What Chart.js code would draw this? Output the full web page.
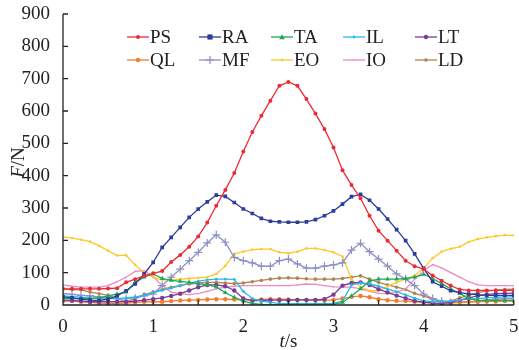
<!DOCTYPE html>
<html>
<head>
<meta charset="utf-8">
<script src="https://cdn.jsdelivr.net/npm/chart.js@4.4.1/dist/chart.umd.min.js"></script>
<style>
  html, body { margin: 0; padding: 0; background: #fff; }
  #wrap { width: 519px; height: 350px; }
</style>
</head>
<body>
<div id="wrap"><canvas id="c"></canvas></div>
<script>
const times = [0, 0.1, 0.2, 0.3, 0.4, 0.5, 0.6, 0.7, 0.8, 0.9,
  1, 1.1, 1.2, 1.3, 1.4, 1.5, 1.6, 1.7, 1.8, 1.9,
  2, 2.1, 2.2, 2.3, 2.4, 2.5, 2.6, 2.7, 2.8, 2.9,
  3, 3.1, 3.2, 3.3, 3.4, 3.5, 3.6, 3.7, 3.8, 3.9,
  4, 4.1, 4.2, 4.3, 4.4, 4.5, 4.6, 4.7, 4.8, 4.9, 5];

const PS = [50, 50, 50, 50, 50, 51, 52, 70, 80, 90,
  98, 105, 133, 155, 180, 212, 255, 307, 356, 408,
  475, 535, 585, 632, 678, 690, 678, 637, 592, 544,
  487, 417, 371, 330, 276, 230, 199, 168, 137, 120,
  111, 91, 75, 60, 48, 45, 45, 45, 45, 45, 45];
const RA = [25, 22, 18, 15, 14, 18, 28, 44, 65, 96,
  132, 178, 209, 240, 271, 297, 319, 340, 336, 317,
  297, 283, 268, 259, 257, 256, 256, 257, 264, 276,
  291, 312, 335, 342, 324, 297, 266, 233, 199, 158,
  113, 72, 58, 44, 38, 34, 32, 30, 30, 30, 30];
const TA = [20, 20, 20, 20, 22, 28, 34, 40, 70, 86,
  96, 82, 76, 73, 70, 66, 62, 56, 38, 24,
  12, 5, 2, 1, 1, 1, 1, 1, 1, 1,
  2, 8, 28, 50, 74, 80, 80, 80, 82, 86,
  95, 82, 66, 50, 36, 20, 15, 14, 14, 14, 14];
const IL = [28, 26, 24, 22, 21, 20, 20, 22, 25, 30,
  38, 45, 52, 60, 68, 74, 78, 80, 80, 79,
  42, 20, 12, 8, 5, 4, 4, 4, 4, 4,
  5, 12, 62, 68, 65, 58, 49, 41, 31, 21,
  13, 10, 10, 12, 15, 18, 20, 22, 24, 25, 25];
const LT = [15, 14, 12, 10, 10, 10, 10, 10, 12, 15,
  18, 22, 28, 35, 45, 55, 62, 62, 58, 45,
  20, 13, 14, 15, 15, 15, 16, 16, 16, 18,
  32, 60, 68, 70, 62, 49, 39, 29, 21, 13,
  9, 6, 5, 8, 15, 22, 28, 32, 35, 36, 37];
const QL = [12, 12, 10, 8, 6, 5, 5, 6, 8, 10,
  10, 10, 12, 14, 15, 16, 17, 18, 18, 17,
  16, 16, 17, 18, 18, 17, 16, 15, 14, 14,
  16, 20, 25, 28, 24, 18, 15, 13, 12, 10,
  8, 6, 5, 6, 8, 10, 10, 11, 11, 12, 12];
const MF = [35, 33, 30, 28, 25, 22, 20, 20, 22, 28,
  34, 60, 86, 111, 137, 163, 192, 217, 194, 147,
  137, 130, 120, 120, 137, 142, 127, 114, 114, 120,
  124, 130, 170, 191, 165, 142, 120, 96, 80, 60,
  34, 20, 12, 8, 8, 10, 12, 15, 18, 20, 20];
const EO = [211, 207, 202, 196, 183, 168, 153, 154, 124, 99,
  86, 78, 78, 80, 82, 84, 86, 96, 121, 158,
  165, 171, 173, 173, 163, 160, 165, 175, 175, 170,
  163, 150, 80, 55, 44, 44, 58, 70, 80, 91,
  114, 145, 165, 174, 180, 195, 204, 209, 213, 216, 215];
const IO = [62, 58, 55, 55, 55, 60, 72, 86, 104, 106,
  88, 60, 40, 35, 32, 35, 42, 50, 55, 58,
  60, 60, 60, 60, 60, 60, 62, 65, 64, 60,
  56, 55, 55, 50, 42, 36, 35, 40, 50, 80,
  106, 125, 115, 100, 86, 72, 62, 60, 60, 60, 60];
const LD = [49, 48, 47, 40, 35, 30, 20, 10, 20, 32,
  40, 48, 55, 60, 65, 68, 70, 70, 68, 66,
  68, 72, 76, 80, 83, 84, 83, 81, 80, 80,
  80, 82, 86, 90, 80, 70, 62, 55, 48, 36,
  28, 18, 10, 12, 22, 30, 38, 43, 46, 48, 49];

const xTicks = [0, 0.5, 1, 1.5, 2, 2.5, 3, 3.5, 4, 4.5, 5];
const yTicks = [0, 100, 200, 300, 400, 500, 600, 700, 800, 900];

// legend order: row 1 then row 2
const series = [
  { label: 'PS', data: PS, color: '#ee2a36', style: 'circle', r: 2 },
  { label: 'RA', data: RA, color: '#2e3d99', style: 'rect', r: 2.6 },
  { label: 'TA', data: TA, color: '#1fa85a', style: 'triangle', r: 2.8 },
  { label: 'IL', data: IL, color: '#2bb7ea', style: 'circle', r: 1.4 },
  { label: 'LT', data: LT, color: '#7a3c98', style: 'circle', r: 2.2 },
  { label: 'QL', data: QL, color: '#f27d2c', style: 'circle', r: 2.2 },
  { label: 'MF', data: MF, color: '#8b90c6', style: 'cross', r: 4 },
  { label: 'EO', data: EO, color: '#fdc82a', style: 'circle', r: 1.3 },
  { label: 'IO', data: IO, color: '#ea8cc4', style: 'circle', r: 0.8 },
  { label: 'LD', data: LD, color: '#b3834f', style: 'circle', r: 1.8 },
];

const FONT = '"Liberation Serif", "Times New Roman", serif';

function drawMarker(ctx, style, x, y, r, color) {
  ctx.fillStyle = color;
  ctx.strokeStyle = color;
  ctx.beginPath();
  if (style === 'rect') {
    ctx.rect(x - r, y - r, 2 * r, 2 * r);
    ctx.fill();
  } else if (style === 'triangle') {
    ctx.moveTo(x, y - r);
    ctx.lineTo(x + r, y + r * 0.8);
    ctx.lineTo(x - r, y + r * 0.8);
    ctx.closePath();
    ctx.fill();
  } else if (style === 'cross') {
    ctx.lineWidth = 1.2;
    ctx.moveTo(x - r, y); ctx.lineTo(x + r, y);
    ctx.moveTo(x, y - r); ctx.lineTo(x, y + r);
    ctx.stroke();
  } else {
    ctx.arc(x, y, r, 0, Math.PI * 2);
    ctx.fill();
  }
}

const gridLegend = {
  id: 'gridLegend',
  afterDatasetsDraw(chart) {
    const ctx = chart.ctx;
    ctx.save();
    series.forEach((s, i) => {
      const x = 127 + (i % 5) * 72;
      const y = 37 + Math.floor(i / 5) * 23;
      ctx.strokeStyle = s.color;
      ctx.lineWidth = 1.3;
      ctx.beginPath();
      ctx.moveTo(x, y);
      ctx.lineTo(x + 22, y);
      ctx.stroke();
      drawMarker(ctx, s.style, x + 11, y, s.r, s.color);
      ctx.fillStyle = '#222';
      ctx.font = '19px ' + FONT;
      ctx.textBaseline = 'middle';
      ctx.textAlign = 'left';
      ctx.fillText(s.label, x + 23, y + 1);
    });
    ctx.restore();
  }
};

const axesFrame = {
  id: 'axesFrame',
  afterDraw(chart) {
    const { ctx, chartArea: a, scales: { x, y } } = chart;
    ctx.save();
    ctx.strokeStyle = '#222';
    ctx.lineWidth = 1.3;
    ctx.beginPath();
    ctx.moveTo(a.left, a.top);
    ctx.lineTo(a.left, a.bottom);
    ctx.lineTo(a.right, a.bottom);
    xTicks.forEach(t => {
      const px = x.getPixelForValue(t);
      ctx.moveTo(px, a.bottom);
      ctx.lineTo(px, a.bottom - 5);
    });
    yTicks.forEach(v => {
      const py = y.getPixelForValue(v);
      ctx.moveTo(a.left, py);
      ctx.lineTo(a.left + 5, py);
    });
    ctx.stroke();

    // axis titles with italic symbol
    ctx.fillStyle = '#222';
    ctx.textBaseline = 'middle';
    const cx = (a.left + a.right) / 2;
    ctx.font = 'italic 19px ' + FONT;
    const wt = ctx.measureText('t').width;
    ctx.font = '19px ' + FONT;
    const ws = ctx.measureText('/s').width;
    let sx = cx - (wt + ws) / 2;
    ctx.textAlign = 'left';
    ctx.font = 'italic 19px ' + FONT;
    ctx.fillText('t', sx, 342);
    ctx.font = '19px ' + FONT;
    ctx.fillText('/s', sx + wt, 342);

    ctx.translate(19, (a.top + a.bottom) / 2 + 3);
    ctx.rotate(-Math.PI / 2);
    ctx.font = 'italic 19px ' + FONT;
    const wf = ctx.measureText('F').width;
    ctx.font = '19px ' + FONT;
    const wn = ctx.measureText('/N').width;
    sx = -(wf + wn) / 2;
    ctx.font = 'italic 19px ' + FONT;
    ctx.fillText('F', sx, 0);
    ctx.font = '19px ' + FONT;
    ctx.fillText('/N', sx + wf, 0);
    ctx.restore();
  }
};

new Chart(document.getElementById('c'), {
  type: 'line',
  data: {
    datasets: series.map(s => ({
      label: s.label,
      data: times.map((t, i) => ({ x: t, y: s.data[i] })),
      borderColor: s.color,
      backgroundColor: s.color,
      borderWidth: 1.3,
      pointStyle: s.style,
      pointRadius: s.r,
      pointBorderWidth: s.style === 'cross' ? 1.2 : 0,
      pointBackgroundColor: s.color,
      pointBorderColor: s.color,
      tension: 0,
      fill: false,
    }))
  },
  options: {
    responsive: true,
    maintainAspectRatio: false,
    animation: false,
    layout: { padding: { top: 14, right: 5, left: 0, bottom: 0 } },
    plugins: {
      legend: { display: false },
      tooltip: { enabled: false },
    },
    scales: {
      x: {
        type: 'linear',
        min: 0, max: 5,
        grid: { display: false },
        border: { display: false },
        ticks: {
          stepSize: 1,
          color: '#222',
          padding: 3,
          maxRotation: 0,
          font: { family: FONT, size: 19 },
        },
        afterFit(scale) {
          scale.height = 45;
          scale.paddingLeft = 0;
          scale.paddingRight = 0;
        },
      },
      y: {
        min: 0, max: 900,
        grid: { display: false },
        border: { display: false },
        ticks: {
          stepSize: 100,
          color: '#222',
          padding: 5,
          font: { family: FONT, size: 19 },
        },
        afterFit(scale) {
          scale.width = 63;
          scale.paddingTop = 0;
          scale.paddingBottom = 0;
        },
      }
    }
  },
  plugins: [gridLegend, axesFrame]
});
</script>
</body>
</html>
